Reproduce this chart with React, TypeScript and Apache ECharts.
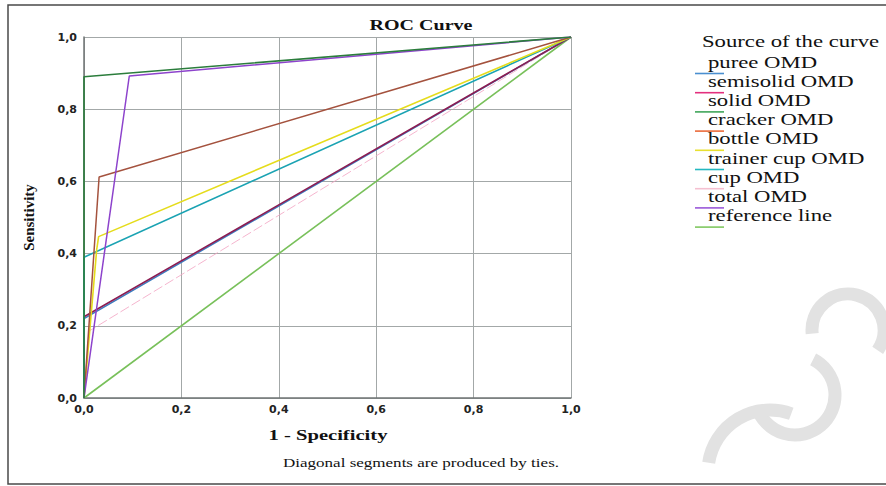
import React, { useEffect, useRef } from "react";
import * as echarts from "echarts";

// ---- data (1 - specificity, sensitivity) ----
const tickValues = [0, 0.2, 0.4, 0.6, 0.8, 1.0];
const tickLabels = ["0,0", "0,2", "0,4", "0,6", "0,8", "1,0"];

const seriesNames = [
  "puree OMD",
  "semisolid OMD",
  "solid OMD",
  "cracker OMD",
  "bottle OMD",
  "trainer cup OMD",
  "cup OMD",
  "total OMD",
  "reference line",
];

const pureeOMD = [[0, 0], [0, 0.22], [1, 1]];
const semisolidOMD = [[0, 0], [0, 0.225], [1, 1]];
const solidOMD = [[0, 0], [0, 0.89], [1, 1]];
const crackerOMD = [[0, 0], [0.031, 0.612], [1, 1]];
const bottleOMD = [[0, 0], [0.026, 0.41], [0.03, 0.447], [1, 1]];
const trainerCupOMD = [[0, 0], [0, 0.39], [1, 1]];
const cupOMD = [[0, 0], [0.01, 0.185], [1, 1]];
const totalOMD = [[0, 0], [0.093, 0.892], [1, 1]];
const referenceLine = [[0, 0], [1, 1]];

const seriesData = [
  pureeOMD,
  semisolidOMD,
  solidOMD,
  crackerOMD,
  bottleOMD,
  trainerCupOMD,
  cupOMD,
  totalOMD,
  referenceLine,
];

// ---- styles ----
const lineColors = [
  "#3b7cc0",
  "#8c1d52",
  "#2b7d3c",
  "#a4523e",
  "#e5dc1c",
  "#1ba3b3",
  "#f2a3c2",
  "#8d43cc",
  "#78c05a",
];
const legendColors = [
  "#4a8fd0",
  "#e3307e",
  "#3fa55a",
  "#ea6a3a",
  "#e8e030",
  "#25b8c0",
  "#f5c0d0",
  "#9a58d8",
  "#80c860",
];
const lineZ = [4, 5, 10, 8, 7, 6, 3, 9, 2];
const lineWidths = [1.5, 1.6, 1.6, 1.5, 1.6, 1.6, 1, 1.5, 1.6];

const serif = "'Liberation Serif', 'Times New Roman', serif";
const STRETCH = 1.42;

export default function App() {
  const ref = useRef<HTMLDivElement>(null);

  useEffect(() => {
    if (!ref.current) return;
    const chart = echarts.init(ref.current, null, { renderer: "svg" });

    const legendGraphics: any[] = [];
    legendGraphics.push({
      type: "text",
      x: 702,
      y: 41,
      scaleX: STRETCH,
      style: {
        text: "Source of the curve",
        x: 0,
        y: 0,
        fill: "#111",
        font: `16px ${serif}`,
        textVerticalAlign: "middle",
      },
    });
    seriesNames.forEach((name, i) => {
      const y = 62 + 19.2 * i;
      legendGraphics.push({
        type: "text",
        x: 708,
        y,
        scaleX: STRETCH,
        style: {
          text: name,
          x: 0,
          y: 0,
          fill: "#111",
          font: `16px ${serif}`,
          textVerticalAlign: "middle",
        },
      });
      legendGraphics.push({
        type: "line",
        shape: { x1: 695, y1: y + 11.5, x2: 724, y2: y + 11.5 },
        style: { stroke: legendColors[i], lineWidth: 1.6 },
      });
    });

    const watermark = [
      { cx: 795, cy: 395, r: 40, s: -1.1, e: Math.PI - 0.3 },
      { cx: 848, cy: 330, r: 36, s: Math.PI - 0.1, e: 2 * Math.PI + 0.6 },
      { cx: 770, cy: 472, r: 62, s: Math.PI + 0.15, e: 1.5 * Math.PI + 0.35 },
    ].map((a) => ({
      type: "arc",
      z: -10,
      shape: { cx: a.cx, cy: a.cy, r: a.r, startAngle: a.s, endAngle: a.e, clockwise: true },
      style: { stroke: "#e2e2e2", lineWidth: 13, fill: "none" },
    }));

    const axisCommon = {
      type: "value" as const,
      min: 0,
      max: 1,
      interval: 0.2,
      axisTick: { show: false },
      axisLine: { show: true, lineStyle: { color: "#6f7474", width: 1.5 } },
      splitLine: { show: true, lineStyle: { color: "#a3a8a8", width: 1 } },
      axisLabel: {
        fontFamily: "'DejaVu Sans', sans-serif",
        fontSize: 11,
        fontWeight: "bold" as const,
        color: "#222",
        showMinLabel: true,
        showMaxLabel: true,
        formatter: (v: number) => {
          const idx = tickValues.findIndex((t) => Math.abs(t - v) < 1e-6);
          return idx >= 0 ? tickLabels[idx] : "";
        },
      },
    };

    chart.setOption({
      animation: false,
      backgroundColor: "#ffffff",
      grid: { left: 84, right: 315, top: 37, bottom: 88, containLabel: false },
      xAxis: {
        ...axisCommon,
        axisLabel: { ...axisCommon.axisLabel, margin: 6 },
      },
      yAxis: {
        ...axisCommon,
        axisLabel: { ...axisCommon.axisLabel, margin: 7 },
        name: "Sensitivity",
        nameLocation: "middle",
        nameRotate: 90,
        nameGap: 48,
        nameTextStyle: {
          fontFamily: serif,
          fontSize: 15,
          fontWeight: "bold",
          color: "#111",
        },
      },
      series: seriesNames.map((name, i) => ({
        name,
        type: "line",
        data: seriesData[i],
        showSymbol: false,
        symbol: "none",
        z: lineZ[i],
        lineStyle: {
          color: lineColors[i],
          width: lineWidths[i],
          opacity: i === 6 ? 0.8 : 1,
          type: i === 6 ? [10, 3] : "solid",
        },
        itemStyle: { color: lineColors[i] },
      })),
      graphic: [
        ...watermark,
        {
          type: "rect",
          z: 100,
          shape: { x: 8, y: 5, width: 890, height: 479 },
          style: { stroke: "#4a4a4a", lineWidth: 1.5, fill: "none" },
        },
        {
          type: "text",
          x: 421,
          y: 25,
          scaleX: 1.38,
          style: {
            text: "ROC Curve",
            x: 0,
            y: 0,
            fill: "#111",
            font: `bold 14.5px ${serif}`,
            textAlign: "center",
            textVerticalAlign: "middle",
          },
        },
        {
          type: "text",
          x: 328,
          y: 435,
          scaleX: STRETCH,
          style: {
            text: "1 - Specificity",
            x: 0,
            y: 0,
            fill: "#111",
            font: `bold 14.5px ${serif}`,
            textAlign: "center",
            textVerticalAlign: "middle",
          },
        },
        {
          type: "text",
          x: 421,
          y: 463,
          scaleX: STRETCH,
          style: {
            text: "Diagonal segments are produced by ties.",
            x: 0,
            y: 0,
            fill: "#111",
            font: `12px ${serif}`,
            textAlign: "center",
            textVerticalAlign: "middle",
          },
        },
        ...legendGraphics,
      ],
    });

    return () => chart.dispose();
  }, []);

  return (
    <div
      ref={ref}
      style={{ position: "fixed", left: 0, top: 0, width: 886, height: 486 }}
    />
  );
}
